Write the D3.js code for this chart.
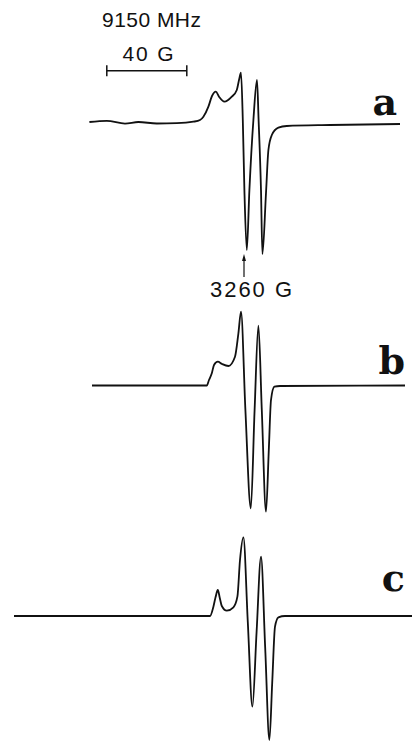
<!DOCTYPE html>
<html>
<head>
<meta charset="utf-8">
<script src="https://cdn.jsdelivr.net/npm/d3@7"></script>
<style>
  html, body { margin: 0; padding: 0; background: #fff; }
  svg { display: block; }
  .lbl { font-family: "Liberation Sans", Arial, sans-serif; font-size: 21px; fill: #111; }
  .trace-name { font-family: "DejaVu Serif", serif; font-weight: bold; font-size: 38px; fill: #111; }
</style>
</head>
<body>
<svg id="chart" width="412" height="741"></svg>
<script>
// field in gauss, intensity in arbitrary units
let fieldA = [3182.7, 3191.4, 3200.5, 3207.2, 3216.4, 3226.4, 3234.7, 3238.0, 3239.7, 3242.2, 3244.0,
  3245.9, 3247.5, 3250.2, 3253.9, 3256.4, 3257.5, 3258.5, 3259.4, 3260.2, 3261.4, 3262.7, 3264.7,
  3266.5, 3267.3, 3268.5, 3269.2, 3271.0, 3272.2, 3273.9, 3277.2, 3281.4, 3303.0, 3338.0];
let intA = [0, 1.2, -1.6, 0, -1.5, -1.2, 0.3, 2, 5.3, 15.3, 26,
  30.3, 25.3, 20.3, 25.3, 32, 42, 49.3, 2, -68, -128, -68, 2,
  42, 2, -68, -132, -71, -28, -13, -5.7, -4, -3, -2];

let fieldB = [3184.0, 3241.4, 3242.5, 3243.9, 3245.0, 3246.9, 3249.0, 3252.2, 3255.5, 3257.2, 3258.5,
  3260.7, 3263.4, 3265.3, 3267.2, 3268.9, 3271.0, 3272.4, 3273.5, 3275.2, 3278.0, 3340.5];
let intB = [0, 0, 5.5, 12.2, 20.5, 23.8, 21.5, 19.5, 28.8, 52.2, 73.8,
  -24.5, -122.8, -24.5, 59.8, -24.5, -126.2, -64.5, -14.5, -1.2, -0.5, 0];

let fieldC = [3145.0, 3243.0, 3244.7, 3245.8, 3246.9, 3247.9, 3248.9, 3251.4, 3254.7, 3256.7, 3258.0,
  3259.7, 3261.9, 3264.2, 3266.3, 3268.5, 3270.6, 3272.7, 3274.1, 3275.5, 3277.2, 3280.5, 3344.0];
let intC = [0, 0, 9.3, 19, 26, 18, 10, 5.3, 8.7, 19.3, 56,
  78.7, -6, -90.7, -15.7, 59.3, -32, -124, -67, -10.7, -1.3, 0, 0];

let traceNames = ['a', 'b', 'c'];
let freqText = '9150 MHz';
let barGauss = 40;
let barText = '40 G';
let markField = 3260;
let markText = '3260 G';

// layout
let baselines = [122, 385.5, 616];
let namePos = [[397, 115], [405, 374], [405, 591]];

let svg = d3.select('#chart');

let x = d3.scaleLinear()
  .domain([3140, 3346])
  .range([4, 416]);

let traces = [
  fieldA.map((f, i) => [f, intA[i]]),
  fieldB.map((f, i) => [f, intB[i]]),
  fieldC.map((f, i) => [f, intC[i]])
];

traces.forEach((pts, k) => {
  let y = d3.scaleLinear()
    .domain([-150, 100])
    .range([baselines[k] + 150, baselines[k] - 100]);

  let line = d3.line()
    .x(d => x(d[0]))
    .y(d => y(d[1]))
    .curve(d3.curveMonotoneX);

  svg.append('path')
    .datum(pts)
    .attr('class', 'trace')
    .attr('d', line)
    .style('fill', 'none')
    .style('stroke', '#111')
    .style('stroke-width', '1.8px')
    .style('stroke-linejoin', 'round');

  svg.append('text')
    .attr('class', 'trace-name')
    .attr('x', namePos[k][0])
    .attr('y', namePos[k][1])
    .attr('text-anchor', 'end')
    .text(traceNames[k]);
});

// frequency + scale bar
svg.append('text')
  .attr('class', 'lbl')
  .attr('x', 102)
  .attr('y', 26.5)
  .attr('textLength', 99)
  .attr('lengthAdjust', 'spacing')
  .text(freqText);

let barStart = 3191.4;
let bx0 = x(barStart), bx1 = x(barStart + barGauss);
let barY = 70.7;

svg.append('line')
  .attr('x1', bx0).attr('x2', bx1)
  .attr('y1', barY).attr('y2', barY)
  .style('stroke', '#111').style('stroke-width', '1.5px');

svg.selectAll('line.tick')
  .data([bx0, bx1])
  .enter()
  .append('line')
  .attr('class', 'tick')
  .attr('x1', d => d).attr('x2', d => d)
  .attr('y1', barY - 5.5).attr('y2', barY + 5.5)
  .style('stroke', '#111').style('stroke-width', '1.5px');

svg.append('text')
  .attr('class', 'lbl')
  .attr('x', 122.5)
  .attr('y', 61)
  .attr('textLength', 51)
  .attr('lengthAdjust', 'spacing')
  .text(barText);

// marker arrow at 3260 G
let mx = x(markField);
svg.append('line')
  .attr('x1', mx).attr('x2', mx)
  .attr('y1', 258).attr('y2', 277)
  .style('stroke', '#111').style('stroke-width', '1.2px');

svg.append('path')
  .attr('d', `M${mx},254L${mx - 2},261L${mx + 2},261Z`)
  .style('fill', '#111');

svg.append('text')
  .attr('class', 'lbl')
  .attr('x', 210)
  .attr('y', 297)
  .style('font-size', '22px')
  .attr('textLength', 82)
  .attr('lengthAdjust', 'spacing')
  .text(markText);
</script>
</body>
</html>
